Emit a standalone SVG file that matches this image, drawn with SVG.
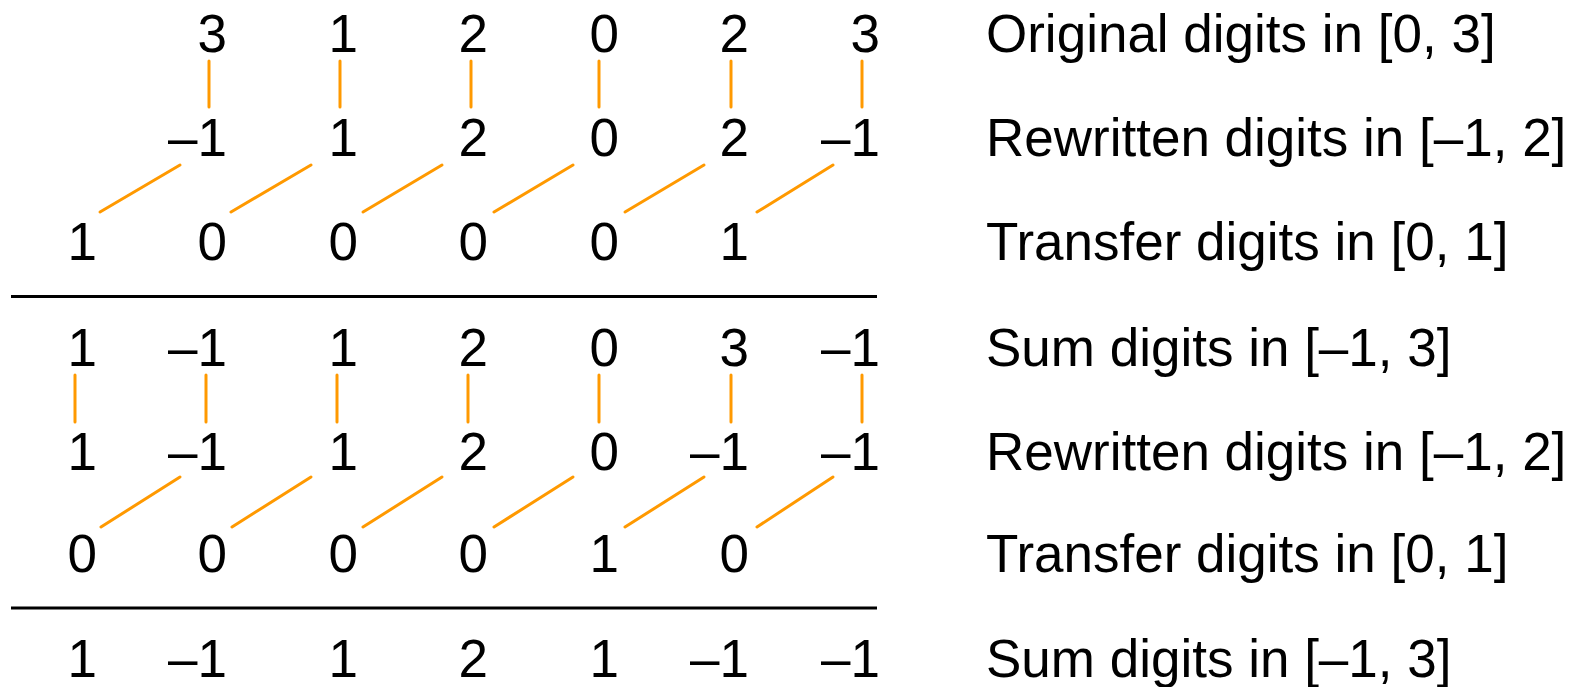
<svg xmlns="http://www.w3.org/2000/svg" width="1572" height="687" viewBox="0 0 1572 687">
  <style>
    .d { font-family: "Liberation Sans", Arial, sans-serif; font-size: 53px; fill: #000; text-anchor: end; }
    .lbl { font-family: "Liberation Sans", Arial, sans-serif; font-size: 53px; fill: #000; }
    .link { stroke: #ff9900; stroke-width: 3; stroke-linecap: round; fill: none; }
    .rule { stroke: #000; stroke-width: 3; fill: none; }
  </style>
  <rect width="1572" height="687" fill="#fff"/>

  <!-- digit rows, right-aligned in columns -->
  <g id="row-original">
    <text class="d" x="227" y="52">3</text>
    <text class="d" x="358" y="52">1</text>
    <text class="d" x="488" y="52">2</text>
    <text class="d" x="619" y="52">0</text>
    <text class="d" x="749" y="52">2</text>
    <text class="d" x="880" y="52">3</text>
  </g>
  <g id="row-rewritten-1">
    <text class="d" x="227" y="156">–1</text>
    <text class="d" x="358" y="156">1</text>
    <text class="d" x="488" y="156">2</text>
    <text class="d" x="619" y="156">0</text>
    <text class="d" x="749" y="156">2</text>
    <text class="d" x="880" y="156">–1</text>
  </g>
  <g id="row-transfer-1">
    <text class="d" x="97" y="260">1</text>
    <text class="d" x="227" y="260">0</text>
    <text class="d" x="358" y="260">0</text>
    <text class="d" x="488" y="260">0</text>
    <text class="d" x="619" y="260">0</text>
    <text class="d" x="749" y="260">1</text>
  </g>
  <g id="row-sum-1">
    <text class="d" x="97" y="366">1</text>
    <text class="d" x="227" y="366">–1</text>
    <text class="d" x="358" y="366">1</text>
    <text class="d" x="488" y="366">2</text>
    <text class="d" x="619" y="366">0</text>
    <text class="d" x="749" y="366">3</text>
    <text class="d" x="880" y="366">–1</text>
  </g>
  <g id="row-rewritten-2">
    <text class="d" x="97" y="470">1</text>
    <text class="d" x="227" y="470">–1</text>
    <text class="d" x="358" y="470">1</text>
    <text class="d" x="488" y="470">2</text>
    <text class="d" x="619" y="470">0</text>
    <text class="d" x="749" y="470">–1</text>
    <text class="d" x="880" y="470">–1</text>
  </g>
  <g id="row-transfer-2">
    <text class="d" x="97" y="572">0</text>
    <text class="d" x="227" y="572">0</text>
    <text class="d" x="358" y="572">0</text>
    <text class="d" x="488" y="572">0</text>
    <text class="d" x="619" y="572">1</text>
    <text class="d" x="749" y="572">0</text>
  </g>
  <g id="row-sum-2">
    <text class="d" x="97" y="677">1</text>
    <text class="d" x="227" y="677">–1</text>
    <text class="d" x="358" y="677">1</text>
    <text class="d" x="488" y="677">2</text>
    <text class="d" x="619" y="677">1</text>
    <text class="d" x="749" y="677">–1</text>
    <text class="d" x="880" y="677">–1</text>
  </g>

  <!-- row captions -->
  <g id="labels">
    <text class="lbl" x="986" y="52">Original digits in [0, 3]</text>
    <text class="lbl" x="986" y="156">Rewritten digits in [–1, 2]</text>
    <text class="lbl" x="986" y="260">Transfer digits in [0, 1]</text>
    <text class="lbl" x="986" y="366">Sum digits in [–1, 3]</text>
    <text class="lbl" x="986" y="470">Rewritten digits in [–1, 2]</text>
    <text class="lbl" x="986" y="572">Transfer digits in [0, 1]</text>
    <text class="lbl" x="986" y="677">Sum digits in [–1, 3]</text>
  </g>

  <!-- addition rules -->
  <g id="rules">
    <line class="rule" x1="11" y1="296.5" x2="877" y2="296.5"/>
    <line class="rule" x1="11" y1="608" x2="877" y2="608"/>
  </g>

  <!-- connectors -->
  <g id="connectors">
    <!-- original -> rewritten -->
    <line class="link" x1="209" y1="61" x2="209" y2="107"/>
    <line class="link" x1="340" y1="61" x2="340" y2="107"/>
    <line class="link" x1="471" y1="61" x2="471" y2="107"/>
    <line class="link" x1="599" y1="61" x2="599" y2="107"/>
    <line class="link" x1="731" y1="61" x2="731" y2="107"/>
    <line class="link" x1="862" y1="61" x2="862" y2="107"/>
    <!-- rewritten -> transfer (one column left) -->
    <line class="link" x1="180" y1="165" x2="100" y2="212"/>
    <line class="link" x1="311" y1="165" x2="231" y2="212"/>
    <line class="link" x1="442" y1="165" x2="363" y2="212"/>
    <line class="link" x1="573" y1="165" x2="494" y2="212"/>
    <line class="link" x1="704" y1="165" x2="625" y2="212"/>
    <line class="link" x1="833" y1="165" x2="757" y2="212"/>
    <!-- sum -> rewritten -->
    <line class="link" x1="75" y1="375" x2="75" y2="422"/>
    <line class="link" x1="206" y1="375" x2="206" y2="422"/>
    <line class="link" x1="337" y1="375" x2="337" y2="422"/>
    <line class="link" x1="468" y1="375" x2="468" y2="422"/>
    <line class="link" x1="599" y1="375" x2="599" y2="422"/>
    <line class="link" x1="731" y1="375" x2="731" y2="422"/>
    <line class="link" x1="862" y1="375" x2="862" y2="422"/>
    <!-- rewritten -> transfer (one column left) -->
    <line class="link" x1="180" y1="477" x2="101" y2="527"/>
    <line class="link" x1="311" y1="477" x2="232" y2="527"/>
    <line class="link" x1="442" y1="477" x2="363" y2="527"/>
    <line class="link" x1="573" y1="477" x2="494" y2="527"/>
    <line class="link" x1="704" y1="477" x2="625" y2="527"/>
    <line class="link" x1="833" y1="477" x2="757" y2="527"/>
  </g>
</svg>
